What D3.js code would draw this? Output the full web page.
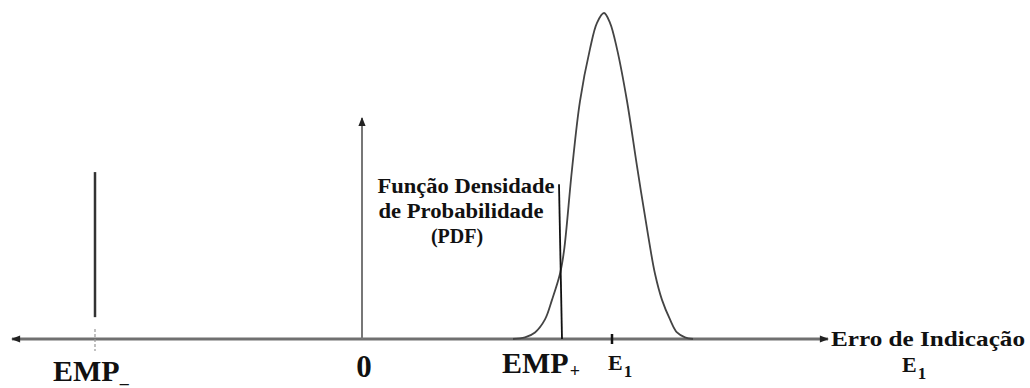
<!DOCTYPE html>
<html>
<head>
<meta charset="utf-8">
<script src="https://cdn.jsdelivr.net/npm/d3@7"></script>
<style>
  body { margin: 0; background: #fff; }
  text { font-family: "Liberation Serif", "Times New Roman", serif; font-weight: bold; fill: #111; }
</style>
</head>
<body>
<div id="chart"></div>
<script>
// error axis values (arbitrary units, 0 = zero error)
const xDomain = [-3.5, 4.66];

// PDF curve (relative density)
const pdfX = [1.51, 1.63, 1.73, 1.83, 1.90, 1.98, 2.02, 2.10, 2.18, 2.28, 2.35, 2.42,
              2.48, 2.55, 2.65, 2.75, 2.86, 2.93, 3.00, 3.08, 3.15, 3.23, 3.31];
const pdfY = [0, 0.005, 0.02, 0.06, 0.12, 0.20, 0.27, 0.52, 0.73, 0.89, 0.97, 1.0,
              0.97, 0.89, 0.73, 0.53, 0.32, 0.20, 0.12, 0.06, 0.02, 0.005, 0];

// markers on the axis
const empMinus = -2.67;
const empPlus = 2.0;
const e1 = 2.5;

const pdfLabel = ["Função Densidade", "de Probabilidade", "(PDF)"];
const axisLabel = "Erro de Indicação";

function drawChart() {
  const dimensions = { width: 1030, height: 388 };

  const xScale = d3.scaleLinear()
    .domain(xDomain)
    .range([12, 828]);

  const yScale = d3.scaleLinear()
    .domain([0, 1])
    .range([339, 13]);

  const y0 = yScale(0);

  const svg = d3.select("#chart")
    .append("svg")
    .attr("width", dimensions.width)
    .attr("height", dimensions.height);

  const defs = svg.append("defs");
  defs.append("marker")
    .attr("id", "arrow")
    .attr("viewBox", "0 0 10 10")
    .attr("refX", 9)
    .attr("refY", 5)
    .attr("markerUnits", "userSpaceOnUse")
    .attr("markerWidth", 11)
    .attr("markerHeight", 9)
    .attr("orient", "auto-start-reverse")
    .append("path")
    .attr("d", "M0,1 L10,5 L0,9 Z")
    .attr("fill", "#222");

  // horizontal error axis with arrows both ways
  svg.append("line")
    .attr("x1", xScale(xDomain[0]))
    .attr("x2", xScale(xDomain[1]))
    .attr("y1", y0)
    .attr("y2", y0)
    .attr("stroke", "#707070")
    .attr("stroke-width", 3)
    .attr("marker-start", "url(#arrow)")
    .attr("marker-end", "url(#arrow)");

  // vertical axis at zero
  svg.append("line")
    .attr("x1", xScale(0))
    .attr("x2", xScale(0))
    .attr("y1", y0)
    .attr("y2", yScale(0.678))
    .attr("stroke", "#777")
    .attr("stroke-width", 2)
    .attr("marker-end", "url(#arrow)");

  // EMP- limit
  svg.append("line")
    .attr("x1", xScale(empMinus))
    .attr("x2", xScale(empMinus))
    .attr("y1", yScale(0.067))
    .attr("y2", yScale(0.512))
    .attr("stroke", "#333")
    .attr("stroke-width", 2.5);

  svg.append("line")
    .attr("x1", xScale(empMinus))
    .attr("x2", xScale(empMinus))
    .attr("y1", y0 - 10)
    .attr("y2", y0 + 12)
    .attr("stroke", "#999")
    .attr("stroke-width", 1.2)
    .attr("stroke-dasharray", "3,2");

  // E1 tick
  svg.append("line")
    .attr("x1", xScale(e1))
    .attr("x2", xScale(e1))
    .attr("y1", y0 - 5)
    .attr("y2", y0 + 5)
    .attr("stroke", "#111")
    .attr("stroke-width", 2.5);

  // PDF curve
  const points = pdfX.map((d, i) => [d, pdfY[i]]);
  const lineGenerator = d3.line()
    .x((d) => xScale(d[0]))
    .y((d) => yScale(d[1]))
    .curve(d3.curveCatmullRom);

  svg.append("path")
    .attr("d", lineGenerator(points))
    .attr("fill", "none")
    .attr("stroke", "#444")
    .attr("stroke-width", 1.8);

  // EMP+ line, also the leader of the PDF label
  svg.append("line")
    .attr("x1", xScale(empPlus))
    .attr("x2", xScale(empPlus) - 3)
    .attr("y1", y0)
    .attr("y2", yScale(0.475))
    .attr("stroke", "#111")
    .attr("stroke-width", 1.8);

  // PDF label
  const pdfText = svg.append("text")
    .attr("font-size", 20)
    .attr("text-anchor", "middle");
  pdfLabel.forEach((t, i) => {
    pdfText.append("tspan")
      .attr("x", (i === 1 ? 461 : i === 0 ? 466 : 457))
      .attr("y", 193 + i * 25)
      .attr("textLength", i === 0 ? 177 : i === 1 ? 165 : null)
      .attr("lengthAdjust", "spacingAndGlyphs")
      .text(t);
  });

  // axis labels
  const empM = svg.append("text")
    .attr("x", xScale(empMinus) - 42)
    .attr("y", 381)
    .attr("font-size", 30);
  empM.append("tspan").text("EMP");
  empM.append("tspan").attr("font-size", 18).attr("dy", 2).text("_");

  svg.append("text")
    .attr("x", xScale(0) + 2)
    .attr("y", 377)
    .attr("font-size", 31)
    .attr("text-anchor", "middle")
    .text("0");

  const empP = svg.append("text")
    .attr("x", 502)
    .attr("y", 373)
    .attr("font-size", 30);
  empP.append("tspan").text("EMP");
  empP.append("tspan").attr("font-size", 18).attr("dy", 4).attr("dx", 1).text("+");

  const e1Label = svg.append("text")
    .attr("x", xScale(e1) - 4)
    .attr("y", 370)
    .attr("font-size", 22);
  e1Label.append("tspan").text("E");
  e1Label.append("tspan").attr("font-size", 17).attr("dy", 7).attr("dx", 1).text("1");

  svg.append("text")
    .attr("x", 831)
    .attr("y", 346)
    .attr("font-size", 21)
    .attr("textLength", 194)
    .attr("lengthAdjust", "spacingAndGlyphs")
    .text(axisLabel);

  const e1Right = svg.append("text")
    .attr("x", 902)
    .attr("y", 372)
    .attr("font-size", 22);
  e1Right.append("tspan").text("E");
  e1Right.append("tspan").attr("font-size", 17).attr("dy", 7).attr("dx", 1).text("1");
}

drawChart();
</script>
</body>
</html>
